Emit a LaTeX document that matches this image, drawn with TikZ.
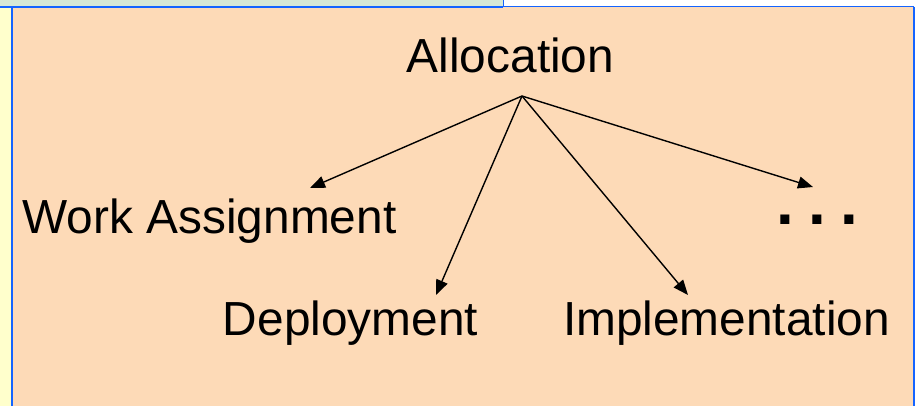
\documentclass[tikz,border=0pt]{standalone}
\usepackage{fontspec}
\setmainfont{Liberation Sans}
\usetikzlibrary{arrows.meta}

\definecolor{peach}{RGB}{253,218,183}
\definecolor{frameblue}{RGB}{20,100,255}
\definecolor{stripgreen}{RGB}{214,232,214}
\definecolor{stripyellow}{RGB}{255,255,204}

\tikzset{
  label text/.style={inner sep=0pt, anchor=base, text=black,
    font=\fontsize{48}{50}\selectfont},
  link/.style={line width=1.4bp, draw=black,
    -{Triangle[length=15bp,width=12bp]}},
}

\begin{document}
\begin{tikzpicture}[x=1bp, y=-1bp]
  \useasboundingbox (0,0) rectangle (916,406);

  % surrounding slide strips
  \fill[white] (0,0) rectangle (916,406);
  \fill[stripgreen] (0,0) rectangle (503,6);
  \fill[stripyellow] (0,6) rectangle (11,406);

  % main panel
  \fill[peach] (11,7) rectangle (913,406);
  \draw[frameblue, line width=2bp] (0,6.5) -- (503,6.5);
  \draw[frameblue, line width=1.8bp] (503.5,0) -- (503.5,6.5) -- (914,6.5);
  \draw[frameblue, line width=2.4bp] (12,6.5) -- (12,406);
  \draw[frameblue, line width=1.8bp] (914,6.5) -- (914,406);

  % labels
  \node[label text] (alloc) at (510.5,72) {Allocation};
  \node[label text] (work)  at (209.5,233) {Work Assignment};
  \node[label text] (depl)  at (350.5,335) {Deployment};
  \node[label text] (impl)  at (726.5,335) {Implementation};
  \node[label text, font=\fontsize{64}{66}\selectfont\bfseries] (more)
    at (817.5,224) {.\hspace{14bp}.\hspace{14bp}.};

  % arrow start and tips
  \coordinate (apex) at (522,96);
  \coordinate (toWork) at (310,188);
  \coordinate (toDepl) at (436,295);
  \coordinate (toImpl) at (688,295);
  \coordinate (toMore) at (813,187);

  \draw[link] (apex) -- (toWork);
  \draw[link] (apex) -- (toDepl);
  \draw[link] (apex) -- (toImpl);
  \draw[link] (apex) -- (toMore);
\end{tikzpicture}
\end{document}
